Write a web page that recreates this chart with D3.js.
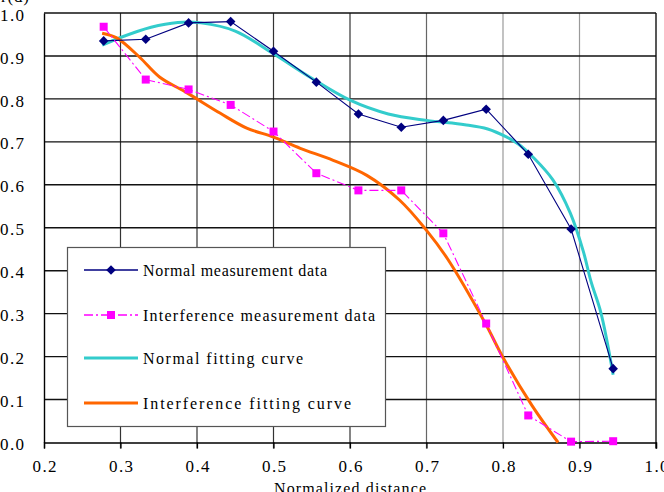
<!DOCTYPE html>
<html>
<head>
<meta charset="utf-8">
<script src="https://cdn.jsdelivr.net/npm/d3@7"></script>
<style>
  html, body { margin: 0; padding: 0; background: #fff; }
  svg { display: block; }
  text { font-family: "Liberation Serif", "DejaVu Serif", serif; fill: #000; }
</style>
</head>
<body>
<svg id="chart" width="664" height="492"></svg>
<script>
// ---- data ----
const measX = [0.278, 0.333, 0.389, 0.444, 0.5, 0.556, 0.611, 0.667, 0.722, 0.778, 0.833, 0.889, 0.944];
const normalMeas = [0.935, 0.939, 0.977, 0.980, 0.911, 0.839, 0.765, 0.734, 0.750, 0.776, 0.671, 0.497, 0.172];
const interfMeas = [0.968, 0.845, 0.822, 0.786, 0.724, 0.627, 0.587, 0.587, 0.487, 0.277, 0.063, 0.002, 0.003];

const normalFitX = [0.276, 0.300, 0.340, 0.375, 0.405, 0.450, 0.500, 0.550, 0.600, 0.650, 0.700, 0.750, 0.780, 0.805, 0.820, 0.840, 0.865, 0.888, 0.905, 0.915, 0.928, 0.944];
const normalFitY = [0.925, 0.943, 0.967, 0.978, 0.977, 0.958, 0.905, 0.848, 0.797, 0.765, 0.750, 0.740, 0.730, 0.711, 0.695, 0.663, 0.612, 0.534, 0.445, 0.375, 0.302, 0.158];

const interfFitX = [0.276, 0.295, 0.325, 0.351, 0.387, 0.430, 0.465, 0.500, 0.535, 0.578, 0.622, 0.665, 0.700, 0.727, 0.777, 0.800, 0.838, 0.872];
const interfFitY = [0.953, 0.942, 0.897, 0.851, 0.814, 0.767, 0.732, 0.711, 0.685, 0.657, 0.622, 0.564, 0.494, 0.429, 0.277, 0.198, 0.086, 0.000];

const xTicks = [0.2, 0.3, 0.4, 0.5, 0.6, 0.7, 0.8, 0.9, 1.0];
const yTicks = [0.0, 0.1, 0.2, 0.3, 0.4, 0.5, 0.6, 0.7, 0.8, 0.9, 1.0];
const legendLabels = ["Normal measurement data", "Interference measurement data", "Normal fitting curve", "Interference fitting curve"];
const xTitle = "Normalized distance";
const yTitle = "r(d)";

// ---- layout ----
const svg = d3.select("#chart");
const x = d3.scaleLinear().domain([0.2, 1.0]).range([44, 656]);
const y = d3.scaleLinear().domain([0, 1]).range([442.5, 13]);

const NAVY = "#000080", MAG = "#FF00FF", CYAN = "#33CCCC", ORANGE = "#FF6600";
const CHAR = 8; // monospace-like cell width

// vertical gridlines
const vgColor = v => v < 0.65 ? "#333" : (v < 0.75 ? "#666" : "#9a9a9a");
svg.append("g").selectAll("line").data(xTicks.slice(1, -1)).join("line")
  .attr("x1", d => x(d)).attr("x2", d => x(d))
  .attr("y1", y(1)).attr("y2", y(0) + 6)
  .attr("stroke", d => vgColor(d)).attr("stroke-width", 1.2);

// horizontal gridlines
svg.append("g").selectAll("line").data(yTicks.slice(1)).join("line")
  .attr("x1", x(0.2)).attr("x2", x(1.0))
  .attr("y1", d => y(d)).attr("y2", d => y(d))
  .attr("stroke", "#111").attr("stroke-width", 1.4);

// right border
svg.append("line").attr("x1", x(1)).attr("x2", x(1)).attr("y1", y(1)).attr("y2", y(0) + 6)
  .attr("stroke", "#111").attr("stroke-width", 1.4);

// axes
const fmt = d3.format(".1f");
const xAxis = d3.axisBottom(x).tickValues(xTicks).tickSize(6).tickFormat(fmt);
const gx = svg.append("g").attr("transform", `translate(0,${y(0)})`).call(xAxis);
gx.select(".domain").attr("stroke", "#000").attr("stroke-width", 1.4);
gx.selectAll(".tick line").attr("stroke", "#000").attr("stroke-width", 1.2);
gx.selectAll(".tick text").attr("font-size", 17).attr("font-family", "Liberation Serif")
  .attr("textLength", 24).attr("lengthAdjust", "spacing")
  .attr("y", 17).attr("dy", "0.71em").attr("fill", "#000");

const yAxis = d3.axisLeft(y).tickValues(yTicks).tickSize(0).tickFormat(fmt);
const gy = svg.append("g").attr("transform", `translate(${x(0.2)},0)`).call(yAxis);
gy.select(".domain").attr("stroke", "#000").attr("stroke-width", 1.4);
gy.selectAll(".tick text").attr("font-size", 17).attr("font-family", "Liberation Serif")
  .attr("textLength", 24).attr("lengthAdjust", "spacing")
  .attr("text-anchor", "start").attr("x", -44).attr("dy", "0.42em").attr("fill", "#000");

// axis titles
svg.append("text").attr("x", (x(0.2) + x(1)) / 2 - xTitle.length * CHAR / 2).attr("y", 494)
  .attr("font-size", 16).attr("textLength", xTitle.length * CHAR).attr("lengthAdjust", "spacing").text(xTitle);
svg.append("text").attr("x", 1).attr("y", 2).attr("font-size", 17)
  .attr("textLength", 28).attr("lengthAdjust", "spacing").text(yTitle);

// series
const normalPts = measX.map((d, i) => [d, normalMeas[i]]);
const interfPts = measX.map((d, i) => [d, interfMeas[i]]);
const normalFit = normalFitX.map((d, i) => [d, normalFitY[i]]);
const interfFit = interfFitX.map((d, i) => [d, interfFitY[i]]);

const line = d3.line().x(d => x(d[0])).y(d => y(d[1]));
const smooth = d3.line().x(d => x(d[0])).y(d => y(d[1])).curve(d3.curveCatmullRom.alpha(0.5));

svg.append("path").datum(normalFit).attr("d", smooth).attr("fill", "none")
  .attr("stroke", CYAN).attr("stroke-width", 3);
svg.append("path").datum(interfFit).attr("d", smooth).attr("fill", "none")
  .attr("stroke", ORANGE).attr("stroke-width", 3);

svg.append("path").datum(normalPts).attr("d", line).attr("fill", "none")
  .attr("stroke", NAVY).attr("stroke-width", 1.1);
svg.append("path").datum(interfPts).attr("d", line).attr("fill", "none")
  .attr("stroke", MAG).attr("stroke-width", 1.1).attr("stroke-dasharray", "9,3,2,3");

const diamondPath = d3.symbol().type(d3.symbolSquare).size(46);
svg.append("g").selectAll("path").data(normalPts).join("path")
  .attr("d", diamondPath)
  .attr("transform", d => `translate(${x(d[0])},${y(d[1])}) rotate(45)`)
  .attr("fill", NAVY);
svg.append("g").selectAll("rect").data(interfPts).join("rect")
  .attr("x", d => x(d[0]) - 4).attr("y", d => y(d[1]) - 4).attr("width", 8).attr("height", 8)
  .attr("fill", MAG);

// legend
const lg = svg.append("g");
lg.append("rect").attr("x", 67.5).attr("y", 247.5).attr("width", 318).attr("height", 179)
  .attr("fill", "#fff").attr("stroke", "#555").attr("stroke-width", 1.2);
const ly = [270, 315, 358, 403];
const styles = [
  {c: NAVY, w: 1.3, dash: null, mark: "diamond"},
  {c: MAG, w: 1.3, dash: "9,3,2,3", mark: "square"},
  {c: CYAN, w: 3, dash: null, mark: null},
  {c: ORANGE, w: 3, dash: null, mark: null}
];
legendLabels.forEach((lab, i) => {
  const s = styles[i];
  lg.append("line").attr("x1", 84).attr("x2", 138).attr("y1", ly[i]).attr("y2", ly[i])
    .attr("stroke", s.c).attr("stroke-width", s.w).attr("stroke-dasharray", s.dash);
  if (s.mark === "diamond") {
    lg.append("path").attr("d", diamondPath)
      .attr("transform", `translate(111,${ly[i]}) rotate(45)`).attr("fill", s.c);
  } else if (s.mark === "square") {
    lg.append("rect").attr("x", 107).attr("y", ly[i] - 4).attr("width", 8).attr("height", 8).attr("fill", s.c);
  }
  lg.append("text").attr("x", 143).attr("y", ly[i]).attr("dy", "0.35em")
    .attr("font-size", 16).attr("textLength", lab.length * CHAR).attr("lengthAdjust", "spacing").text(lab);
});
</script>
</body>
</html>
